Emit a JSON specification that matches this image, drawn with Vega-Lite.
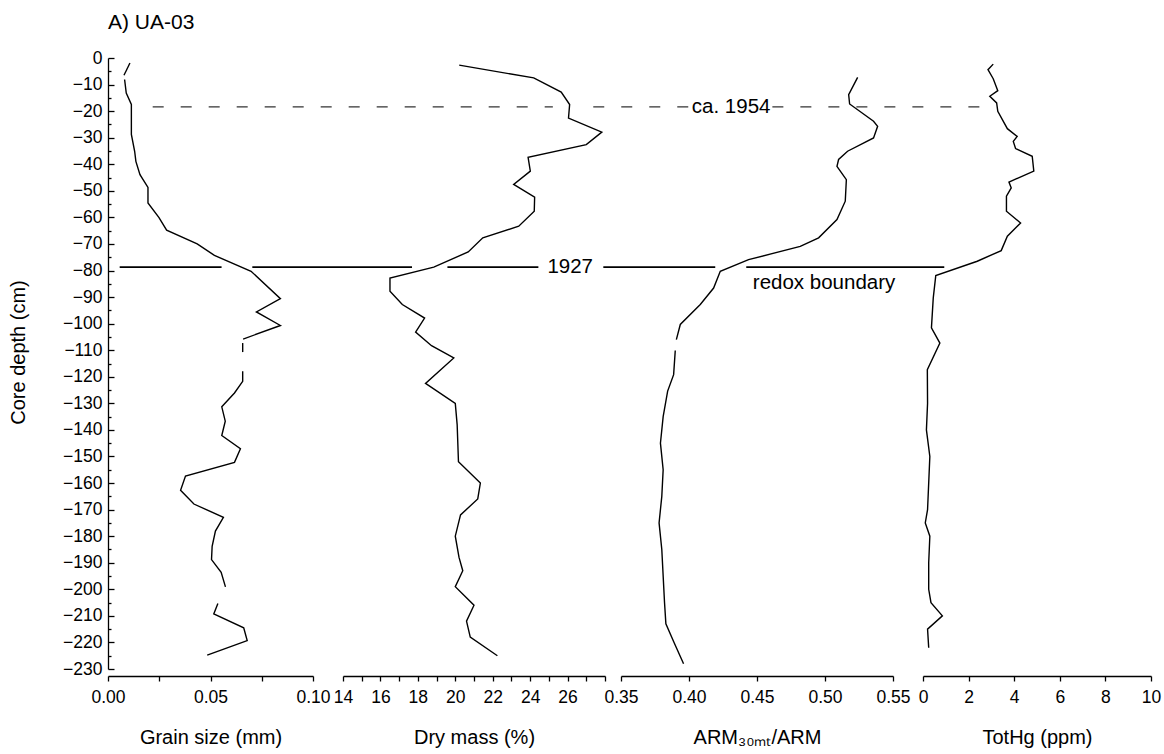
{
  "$schema": "https://vega.github.io/schema/vega-lite/v6.json",
  "autosize": {"type": "pad"},
  "padding": {"left": 8, "top": 12, "right": 5, "bottom": 5},
  "title": {"text": "A) UA-03", "anchor": "start", "frame": "group", "font": "Liberation Sans", "fontSize": 21, "fontWeight": "normal", "color": "black", "offset": 16},
  "datasets": {
    "curves": [
      {"var": "grain", "seg": 1, "depth": -1.9, "v": 0.0107},
      {"var": "grain", "seg": 1, "depth": -6.5, "v": 0.0078},
      {"var": "grain", "seg": 2, "depth": -8.1, "v": 0.0081},
      {"var": "grain", "seg": 2, "depth": -13.2, "v": 0.0089},
      {"var": "grain", "seg": 2, "depth": -17.5, "v": 0.0114},
      {"var": "grain", "seg": 2, "depth": -28.8, "v": 0.0114},
      {"var": "grain", "seg": 2, "depth": -35.1, "v": 0.013},
      {"var": "grain", "seg": 2, "depth": -38.9, "v": 0.0136},
      {"var": "grain", "seg": 2, "depth": -43.9, "v": 0.0156},
      {"var": "grain", "seg": 2, "depth": -48.7, "v": 0.0195},
      {"var": "grain", "seg": 2, "depth": -54.6, "v": 0.0195},
      {"var": "grain", "seg": 2, "depth": -60.0, "v": 0.0248},
      {"var": "grain", "seg": 2, "depth": -64.8, "v": 0.0286},
      {"var": "grain", "seg": 2, "depth": -70.0, "v": 0.0435},
      {"var": "grain", "seg": 2, "depth": -74.3, "v": 0.0519},
      {"var": "grain", "seg": 2, "depth": -80.3, "v": 0.0698},
      {"var": "grain", "seg": 2, "depth": -90.6, "v": 0.0841},
      {"var": "grain", "seg": 2, "depth": -95.6, "v": 0.0724},
      {"var": "grain", "seg": 2, "depth": -100.7, "v": 0.0841},
      {"var": "grain", "seg": 2, "depth": -105.8, "v": 0.0659},
      {"var": "grain", "seg": 3, "depth": -107.3, "v": 0.0657},
      {"var": "grain", "seg": 3, "depth": -110.7, "v": 0.0657},
      {"var": "grain", "seg": 4, "depth": -117.9, "v": 0.0657},
      {"var": "grain", "seg": 4, "depth": -121.7, "v": 0.0657},
      {"var": "grain", "seg": 4, "depth": -126.1, "v": 0.0617},
      {"var": "grain", "seg": 4, "depth": -131.3, "v": 0.0555},
      {"var": "grain", "seg": 4, "depth": -136.7, "v": 0.0572},
      {"var": "grain", "seg": 4, "depth": -142.1, "v": 0.0555},
      {"var": "grain", "seg": 4, "depth": -147.1, "v": 0.0646},
      {"var": "grain", "seg": 4, "depth": -152.2, "v": 0.0617},
      {"var": "grain", "seg": 4, "depth": -157.4, "v": 0.0378},
      {"var": "grain", "seg": 4, "depth": -162.7, "v": 0.0354},
      {"var": "grain", "seg": 4, "depth": -167.9, "v": 0.0419},
      {"var": "grain", "seg": 4, "depth": -172.9, "v": 0.0563},
      {"var": "grain", "seg": 4, "depth": -178.1, "v": 0.0524},
      {"var": "grain", "seg": 4, "depth": -183.8, "v": 0.0508},
      {"var": "grain", "seg": 4, "depth": -188.8, "v": 0.0505},
      {"var": "grain", "seg": 4, "depth": -193.6, "v": 0.0552},
      {"var": "grain", "seg": 4, "depth": -199.1, "v": 0.0573},
      {"var": "grain", "seg": 5, "depth": -205.3, "v": 0.0536},
      {"var": "grain", "seg": 5, "depth": -209.3, "v": 0.0516},
      {"var": "grain", "seg": 5, "depth": -214.5, "v": 0.0662},
      {"var": "grain", "seg": 5, "depth": -219.3, "v": 0.0679},
      {"var": "grain", "seg": 5, "depth": -224.8, "v": 0.0484},

      {"var": "dry", "seg": 1, "depth": -2.7, "v": 20.21},
      {"var": "dry", "seg": 1, "depth": -7.5, "v": 24.19},
      {"var": "dry", "seg": 1, "depth": -12.8, "v": 25.66},
      {"var": "dry", "seg": 1, "depth": -17.5, "v": 26.11},
      {"var": "dry", "seg": 1, "depth": -22.6, "v": 26.05},
      {"var": "dry", "seg": 1, "depth": -27.9, "v": 27.83},
      {"var": "dry", "seg": 1, "depth": -32.6, "v": 27.0},
      {"var": "dry", "seg": 1, "depth": -37.4, "v": 23.89},
      {"var": "dry", "seg": 1, "depth": -42.6, "v": 24.01},
      {"var": "dry", "seg": 1, "depth": -47.6, "v": 23.12},
      {"var": "dry", "seg": 1, "depth": -52.4, "v": 24.24},
      {"var": "dry", "seg": 1, "depth": -57.7, "v": 24.22},
      {"var": "dry", "seg": 1, "depth": -63.3, "v": 23.39},
      {"var": "dry", "seg": 1, "depth": -67.7, "v": 21.47},
      {"var": "dry", "seg": 1, "depth": -73.0, "v": 20.69},
      {"var": "dry", "seg": 1, "depth": -78.7, "v": 18.85},
      {"var": "dry", "seg": 1, "depth": -82.8, "v": 16.51},
      {"var": "dry", "seg": 1, "depth": -87.8, "v": 16.51},
      {"var": "dry", "seg": 1, "depth": -92.8, "v": 17.17},
      {"var": "dry", "seg": 1, "depth": -97.9, "v": 18.36},
      {"var": "dry", "seg": 1, "depth": -103.2, "v": 17.88},
      {"var": "dry", "seg": 1, "depth": -108.3, "v": 18.73},
      {"var": "dry", "seg": 1, "depth": -112.9, "v": 19.92},
      {"var": "dry", "seg": 1, "depth": -122.5, "v": 18.41},
      {"var": "dry", "seg": 1, "depth": -130.0, "v": 20.0},
      {"var": "dry", "seg": 1, "depth": -138.0, "v": 20.1},
      {"var": "dry", "seg": 1, "depth": -152.0, "v": 20.17},
      {"var": "dry", "seg": 1, "depth": -160.0, "v": 21.34},
      {"var": "dry", "seg": 1, "depth": -166.0, "v": 21.2},
      {"var": "dry", "seg": 1, "depth": -172.0, "v": 20.28},
      {"var": "dry", "seg": 1, "depth": -180.0, "v": 20.0},
      {"var": "dry", "seg": 1, "depth": -188.0, "v": 20.2},
      {"var": "dry", "seg": 1, "depth": -193.0, "v": 20.4},
      {"var": "dry", "seg": 1, "depth": -199.0, "v": 20.0},
      {"var": "dry", "seg": 1, "depth": -206.0, "v": 21.0},
      {"var": "dry", "seg": 1, "depth": -212.0, "v": 20.6},
      {"var": "dry", "seg": 1, "depth": -218.0, "v": 20.8},
      {"var": "dry", "seg": 1, "depth": -225.0, "v": 22.25},

      {"var": "arm", "seg": 1, "depth": -7.3, "v": 0.524},
      {"var": "arm", "seg": 1, "depth": -13.8, "v": 0.5174},
      {"var": "arm", "seg": 1, "depth": -17.3, "v": 0.5181},
      {"var": "arm", "seg": 1, "depth": -23.8, "v": 0.5357},
      {"var": "arm", "seg": 1, "depth": -25.7, "v": 0.5387},
      {"var": "arm", "seg": 1, "depth": -30.1, "v": 0.5357},
      {"var": "arm", "seg": 1, "depth": -35.1, "v": 0.5166},
      {"var": "arm", "seg": 1, "depth": -38.2, "v": 0.51},
      {"var": "arm", "seg": 1, "depth": -40.8, "v": 0.5088},
      {"var": "arm", "seg": 1, "depth": -45.8, "v": 0.5157},
      {"var": "arm", "seg": 1, "depth": -53.9, "v": 0.5149},
      {"var": "arm", "seg": 1, "depth": -60.8, "v": 0.5088},
      {"var": "arm", "seg": 1, "depth": -67.7, "v": 0.4953},
      {"var": "arm", "seg": 1, "depth": -70.9, "v": 0.4818},
      {"var": "arm", "seg": 1, "depth": -75.9, "v": 0.4438},
      {"var": "arm", "seg": 1, "depth": -80.3, "v": 0.423},
      {"var": "arm", "seg": 1, "depth": -86.6, "v": 0.4181},
      {"var": "arm", "seg": 1, "depth": -92.8, "v": 0.4083},
      {"var": "arm", "seg": 1, "depth": -100.3, "v": 0.3936},
      {"var": "arm", "seg": 1, "depth": -106.0, "v": 0.3907},
      {"var": "arm", "seg": 2, "depth": -110.1, "v": 0.3899},
      {"var": "arm", "seg": 2, "depth": -119.2, "v": 0.3887},
      {"var": "arm", "seg": 2, "depth": -125.4, "v": 0.3843},
      {"var": "arm", "seg": 2, "depth": -135.0, "v": 0.381},
      {"var": "arm", "seg": 2, "depth": -145.0, "v": 0.379},
      {"var": "arm", "seg": 2, "depth": -155.0, "v": 0.381},
      {"var": "arm", "seg": 2, "depth": -165.0, "v": 0.38},
      {"var": "arm", "seg": 2, "depth": -175.0, "v": 0.378},
      {"var": "arm", "seg": 2, "depth": -185.0, "v": 0.38},
      {"var": "arm", "seg": 2, "depth": -195.0, "v": 0.381},
      {"var": "arm", "seg": 2, "depth": -205.0, "v": 0.382},
      {"var": "arm", "seg": 2, "depth": -213.0, "v": 0.383},
      {"var": "arm", "seg": 2, "depth": -220.0, "v": 0.389},
      {"var": "arm", "seg": 2, "depth": -228.0, "v": 0.396},

      {"var": "hg", "seg": 1, "depth": -2.3, "v": 3.08},
      {"var": "hg", "seg": 1, "depth": -4.4, "v": 2.85},
      {"var": "hg", "seg": 1, "depth": -7.8, "v": 3.08},
      {"var": "hg", "seg": 1, "depth": -12.3, "v": 3.28},
      {"var": "hg", "seg": 1, "depth": -14.4, "v": 2.93},
      {"var": "hg", "seg": 1, "depth": -16.9, "v": 3.23},
      {"var": "hg", "seg": 1, "depth": -20.1, "v": 3.28},
      {"var": "hg", "seg": 1, "depth": -26.6, "v": 3.7},
      {"var": "hg", "seg": 1, "depth": -29.5, "v": 4.13},
      {"var": "hg", "seg": 1, "depth": -31.4, "v": 3.96},
      {"var": "hg", "seg": 1, "depth": -34.1, "v": 4.06},
      {"var": "hg", "seg": 1, "depth": -37.0, "v": 4.79},
      {"var": "hg", "seg": 1, "depth": -42.6, "v": 4.86},
      {"var": "hg", "seg": 1, "depth": -46.7, "v": 3.77},
      {"var": "hg", "seg": 1, "depth": -48.9, "v": 3.87},
      {"var": "hg", "seg": 1, "depth": -52.0, "v": 3.66},
      {"var": "hg", "seg": 1, "depth": -57.7, "v": 3.66},
      {"var": "hg", "seg": 1, "depth": -62.1, "v": 4.28},
      {"var": "hg", "seg": 1, "depth": -67.1, "v": 3.7},
      {"var": "hg", "seg": 1, "depth": -72.5, "v": 3.43},
      {"var": "hg", "seg": 1, "depth": -76.5, "v": 2.38},
      {"var": "hg", "seg": 1, "depth": -81.9, "v": 0.56},
      {"var": "hg", "seg": 1, "depth": -90.3, "v": 0.45},
      {"var": "hg", "seg": 1, "depth": -101.6, "v": 0.37},
      {"var": "hg", "seg": 1, "depth": -107.3, "v": 0.74},
      {"var": "hg", "seg": 1, "depth": -117.3, "v": 0.19},
      {"var": "hg", "seg": 1, "depth": -130.0, "v": 0.2},
      {"var": "hg", "seg": 1, "depth": -140.0, "v": 0.15},
      {"var": "hg", "seg": 1, "depth": -150.0, "v": 0.3},
      {"var": "hg", "seg": 1, "depth": -160.0, "v": 0.25},
      {"var": "hg", "seg": 1, "depth": -170.0, "v": 0.2},
      {"var": "hg", "seg": 1, "depth": -175.0, "v": 0.1},
      {"var": "hg", "seg": 1, "depth": -180.0, "v": 0.3},
      {"var": "hg", "seg": 1, "depth": -190.0, "v": 0.25},
      {"var": "hg", "seg": 1, "depth": -200.0, "v": 0.25},
      {"var": "hg", "seg": 1, "depth": -205.0, "v": 0.35},
      {"var": "hg", "seg": 1, "depth": -210.0, "v": 0.85},
      {"var": "hg", "seg": 1, "depth": -215.0, "v": 0.2},
      {"var": "hg", "seg": 1, "depth": -222.0, "v": 0.25}
    ],
    "rules": [
      {"p": 1, "s": "solid", "depth": -78.7, "a": 0.0057, "b": 0.0554},
      {"p": 1, "s": "solid", "depth": -78.7, "a": 0.0704, "b": 0.1483},
      {"p": 2, "s": "solid", "depth": -78.7, "a": 19.58, "b": 24.44},
      {"p": 3, "s": "solid", "depth": -78.7, "a": 0.337, "b": 0.4193},
      {"p": 3, "s": "solid", "depth": -78.7, "a": 0.4421, "b": 0.5877},
      {"p": 1, "s": "dash", "depth": -18.4, "a": 0.0218, "b": 0.217},
      {"p": 3, "s": "dash", "depth": -18.4, "a": 0.3296, "b": 0.3995},
      {"p": 3, "s": "dash", "depth": -18.4, "a": 0.4613, "b": 0.6216}
    ],
    "notes": [
      {"p": 2, "label": "1927", "depth": -78.7, "x": 26.14},
      {"p": 3, "label": "ca. 1954", "depth": -18.4, "x": 0.431},
      {"p": 3, "label": "redox boundary", "depth": -84.7, "x": 0.4993}
    ]
  },
  "spacing": 0,
  "bounds": "flush",
  "hconcat": [
    {
      "width": 205, "height": 611,
      "resolve": {"axis": {"x": "independent", "y": "independent"}},
      "layer": [
        {
          "data": {"name": "curves"},
          "transform": [{"filter": "datum.var === 'grain'"}],
          "mark": {"type": "line", "color": "black", "strokeWidth": 1.4},
          "encoding": {
            "x": {"field": "v", "type": "quantitative", "scale": {"domain": [0, 0.1], "nice": false, "zero": false},
              "axis": {"orient": "bottom", "title": "Grain size (mm)", "values": [0, 0.025, 0.05, 0.075, 0.1], "format": ".2f",
                "labelExpr": "indexof(['0.00','0.05','0.10'], datum.label) >= 0 ? datum.label : ''"}},
            "y": {"field": "depth", "type": "quantitative", "scale": {"domain": [-230, 0], "nice": false, "zero": false},
              "axis": {"orient": "left", "title": "Core depth (cm)", "offset": 0, "tickSize": -6, "labelPadding": 12,
                "values": [0, -10, -20, -30, -40, -50, -60, -70, -80, -90, -100, -110, -120, -130, -140, -150, -160, -170, -180, -190, -200, -210, -220, -230],
                "format": "d", "titleX": -90, "titleY": 294, "titleAngle": -90, "titleAlign": "center", "titleBaseline": "middle"}},
            "detail": {"field": "seg"},
            "order": {"field": "depth", "sort": "descending"}
          }
        },
        {
          "data": {"name": "rules"},
          "transform": [{"filter": "datum.p === 1 && datum.s === 'solid'"}],
          "mark": {"type": "rule", "color": "black", "strokeWidth": 1.7},
          "encoding": {
            "x": {"field": "a", "type": "quantitative", "scale": {"domain": [0, 0.1], "nice": false, "zero": false}, "axis": null},
            "x2": {"field": "b"},
            "y": {"field": "depth", "type": "quantitative", "scale": {"domain": [-230, 0], "nice": false, "zero": false},
              "axis": {"orient": "left", "title": null, "labels": false, "domain": false, "tickSize": -3,
                "values": [-5, -15, -25, -35, -45, -55, -65, -75, -85, -95, -105, -115, -125, -135, -145, -155, -165, -175, -185, -195, -205, -215, -225]}}
          }
        },
        {
          "data": {"name": "rules"},
          "transform": [{"filter": "datum.p === 1 && datum.s === 'dash'"}],
          "mark": {"type": "rule", "color": "#333333", "strokeWidth": 1.3, "strokeDash": [11, 17]},
          "encoding": {
            "x": {"field": "a", "type": "quantitative", "scale": {"domain": [0, 0.1], "nice": false, "zero": false}, "axis": null},
            "x2": {"field": "b"},
            "y": {"field": "depth", "type": "quantitative", "scale": {"domain": [-230, 0], "nice": false, "zero": false}, "axis": null}
          }
        }
      ]
    },
    {"width": 30, "height": 611, "data": {"values": []}, "mark": "point"},
    {
      "width": 262, "height": 611,
      "resolve": {"axis": {"x": "independent", "y": "independent"}},
      "layer": [
        {
          "data": {"name": "curves"},
          "transform": [{"filter": "datum.var === 'dry'"}],
          "mark": {"type": "line", "color": "black", "strokeWidth": 1.4},
          "encoding": {
            "x": {"field": "v", "type": "quantitative", "scale": {"domain": [14, 28], "nice": false, "zero": false},
              "axis": {"orient": "bottom", "title": "Dry mass (%)", "values": [14, 15, 16, 17, 18, 19, 20, 21, 22, 23, 24, 25, 26, 27, 28], "format": "d",
                "labelExpr": "datum.value % 2 === 0 && datum.value < 28 ? datum.label : ''"}},
            "y": {"field": "depth", "type": "quantitative", "scale": {"domain": [-230, 0], "nice": false, "zero": false}, "axis": null},
            "detail": {"field": "seg"},
            "order": {"field": "depth", "sort": "descending"}
          }
        },
        {
          "data": {"name": "rules"},
          "transform": [{"filter": "datum.p === 2 && datum.s === 'solid'"}],
          "mark": {"type": "rule", "color": "black", "strokeWidth": 1.7},
          "encoding": {
            "x": {"field": "a", "type": "quantitative", "scale": {"domain": [14, 28], "nice": false, "zero": false}, "axis": null},
            "x2": {"field": "b"},
            "y": {"field": "depth", "type": "quantitative", "scale": {"domain": [-230, 0], "nice": false, "zero": false}, "axis": null}
          }
        },
        {
          "data": {"name": "notes"},
          "transform": [{"filter": "datum.p === 2"}],
          "mark": {"type": "text", "font": "Liberation Sans", "fontSize": 20.5, "color": "black", "align": "center", "baseline": "middle"},
          "encoding": {
            "x": {"field": "x", "type": "quantitative", "scale": {"domain": [14, 28], "nice": false, "zero": false}, "axis": null},
            "y": {"field": "depth", "type": "quantitative", "scale": {"domain": [-230, 0], "nice": false, "zero": false}, "axis": null},
            "text": {"field": "label"}
          }
        }
      ]
    },
    {"width": 16, "height": 611, "data": {"values": []}, "mark": "point"},
    {
      "width": 272, "height": 611,
      "resolve": {"axis": {"x": "independent", "y": "independent"}},
      "layer": [
        {
          "data": {"name": "curves"},
          "transform": [{"filter": "datum.var === 'arm'"}],
          "mark": {"type": "line", "color": "black", "strokeWidth": 1.4},
          "encoding": {
            "x": {"field": "v", "type": "quantitative", "scale": {"domain": [0.35, 0.55], "nice": false, "zero": false},
              "axis": {"orient": "bottom", "title": "ARM₃₀ₘₜ/ARM", "values": [0.35, 0.4, 0.45, 0.5, 0.55], "format": ".2f"}},
            "y": {"field": "depth", "type": "quantitative", "scale": {"domain": [-230, 0], "nice": false, "zero": false}, "axis": null},
            "detail": {"field": "seg"},
            "order": {"field": "depth", "sort": "descending"}
          }
        },
        {
          "data": {"name": "rules"},
          "transform": [{"filter": "datum.p === 3 && datum.s === 'solid'"}],
          "mark": {"type": "rule", "color": "black", "strokeWidth": 1.7},
          "encoding": {
            "x": {"field": "a", "type": "quantitative", "scale": {"domain": [0.35, 0.55], "nice": false, "zero": false}, "axis": null},
            "x2": {"field": "b"},
            "y": {"field": "depth", "type": "quantitative", "scale": {"domain": [-230, 0], "nice": false, "zero": false}, "axis": null}
          }
        },
        {
          "data": {"name": "rules"},
          "transform": [{"filter": "datum.p === 3 && datum.s === 'dash'"}],
          "mark": {"type": "rule", "color": "#333333", "strokeWidth": 1.3, "strokeDash": [11, 17]},
          "encoding": {
            "x": {"field": "a", "type": "quantitative", "scale": {"domain": [0.35, 0.55], "nice": false, "zero": false}, "axis": null},
            "x2": {"field": "b"},
            "y": {"field": "depth", "type": "quantitative", "scale": {"domain": [-230, 0], "nice": false, "zero": false}, "axis": null}
          }
        },
        {
          "data": {"name": "notes"},
          "transform": [{"filter": "datum.p === 3"}],
          "mark": {"type": "text", "font": "Liberation Sans", "fontSize": 20.5, "color": "black", "align": "center", "baseline": "middle"},
          "encoding": {
            "x": {"field": "x", "type": "quantitative", "scale": {"domain": [0.35, 0.55], "nice": false, "zero": false}, "axis": null},
            "y": {"field": "depth", "type": "quantitative", "scale": {"domain": [-230, 0], "nice": false, "zero": false}, "axis": null},
            "text": {"field": "label"}
          }
        }
      ]
    },
    {"width": 30, "height": 611, "data": {"values": []}, "mark": "point"},
    {
      "width": 228, "height": 611,
      "layer": [
        {
          "data": {"name": "curves"},
          "transform": [{"filter": "datum.var === 'hg'"}],
          "mark": {"type": "line", "color": "black", "strokeWidth": 1.4},
          "encoding": {
            "x": {"field": "v", "type": "quantitative", "scale": {"domain": [0, 10], "nice": false, "zero": false},
              "axis": {"orient": "bottom", "title": "TotHg (ppm)", "values": [0, 2, 4, 6, 8, 10], "format": "d"}},
            "y": {"field": "depth", "type": "quantitative", "scale": {"domain": [-230, 0], "nice": false, "zero": false}, "axis": null},
            "detail": {"field": "seg"},
            "order": {"field": "depth", "sort": "descending"}
          }
        }
      ]
    }
  ],
  "config": {
    "view": {"stroke": null},
    "axis": {
      "grid": false, "domainColor": "black", "tickColor": "black", "labelColor": "black", "titleColor": "black",
      "labelFont": "Liberation Sans", "titleFont": "Liberation Sans", "labelFontSize": 17.5, "titleFontSize": 20,
      "titleFontWeight": "normal", "domainWidth": 1.3, "tickWidth": 1.3, "labelOverlap": false, "labelFlush": false, "labelBound": false
    },
    "axisX": {"offset": 7, "tickSize": 5, "labelPadding": 7, "titlePadding": 22}
  }
}
